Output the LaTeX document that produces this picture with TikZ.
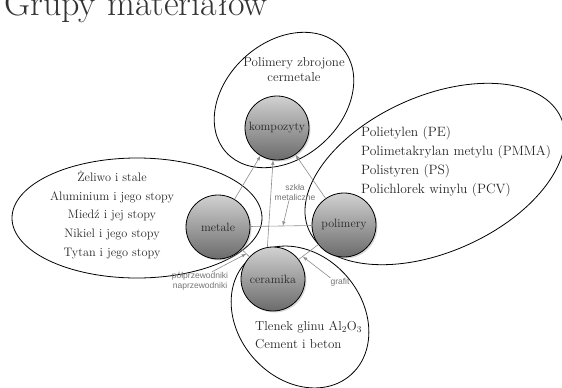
\documentclass[tikz,border=0pt]{standalone}
\usepackage{fontspec}
\usepackage{tikz}
\usetikzlibrary{arrows}
\usetikzlibrary{shadows}
\usepackage{xcolor}
\newfontfamily\notefont{Liberation Sans}
\definecolor{txtgray}{gray}{0.15}
\definecolor{notegray}{gray}{0.45}
\newcommand{\grpfont}{\fontsize{12}{13}\selectfont}
\newcommand{\listfont}{\fontsize{12.3}{18.8}\selectfont}

\begin{document}
\begin{tikzpicture}[x=1pt,y=-1pt]
\tikzstyle{every node}=[inner sep=0pt, text=txtgray]
\tikzstyle{grp}=[circle, draw=black, line width=0.8pt, minimum size=64pt,
  top color=black!18, bottom color=black!58,
  drop shadow={opacity=0.3, shadow xshift=1.5pt, shadow yshift=-1.5pt}, font=\grpfont]
\tikzstyle{ring}=[line width=0.8pt]
\tikzstyle{conn}=[draw=black!45, line width=0.6pt]
\tikzstyle{note}=[font=\notefont\fontsize{8.5}{10}\selectfont, text=notegray, align=center]
\useasboundingbox (0,0) rectangle (562,388);

\node[anchor=base west, font=\fontsize{36}{40}\selectfont, text=black!80] (t) at (4,15) {Grupy materiałów};

% grupy
\draw[ring, rotate around={42:(284,100)}] (284,100) ellipse [x radius=78pt, y radius=58pt];
\draw[ring] (137,218) ellipse [x radius=125pt, y radius=60pt];
\draw[ring, rotate around={24:(435,174)}] (435,174) ellipse [x radius=138pt, y radius=78pt];
\draw[ring, rotate around={-49:(300,317)}] (300,317) ellipse [x radius=77pt, y radius=62pt];

\node[align=center, font=\fontsize{13}{15}\selectfont] (kt) at (294,70) {Polimery zbrojone\\cermetale};
\node[align=center, font=\listfont] (mt) at (112,215) {Żeliwo i stale\\Aluminium i jego stopy\\Miedź i jej stopy\\Nikiel i jego stopy\\Tytan i jego stopy};
\node[align=left, anchor=west, font=\fontsize{13.5}{19}\selectfont] (pt) at (361,162) {Polietylen (PE)\\Polimetakrylan metylu (PMMA)\\Polistyren (PS)\\Polichlorek winylu (PCV)};
\node[align=left, anchor=west, font=\fontsize{13}{18}\selectfont] (ct) at (255,335) {Tlenek glinu Al$_2$O$_3$\\Cement i beton};

\node[grp] (k) at (277,128) {kompozyty};
\node[grp] (m) at (218,227) {metale};
\node[grp] (p) at (344,225) {polimery};
\node[grp] (c) at (273,279) {ceramika};

% polaczenia
\draw[conn,-latex] (m) -- (k);
\draw[conn,-latex] (c.100) -- (k.263);
\draw[conn,-latex] (p) -- (k);
\draw[conn] (m) -- (p) coordinate[pos=0.53] (mp);
\draw[conn] (c) -- (p) coordinate[pos=0.2] (cp);
\draw[conn] (m) -- (c) coordinate[pos=0.6] (mc);

\node[note] (s) at (295,192) {szkła\\metaliczne};
\node[note] (g) at (340,282) {grafit};
\node[note] (h) at (200,281) {półprzewodniki\\naprzewodniki};
\draw[conn,-latex] ([xshift=-6pt]s.south) -- (mp);
\draw[conn,-latex] (g.north west) -- (cp);
\draw[conn,-latex] ([xshift=12pt]h.north) -- (mc);
\end{tikzpicture}
\end{document}
